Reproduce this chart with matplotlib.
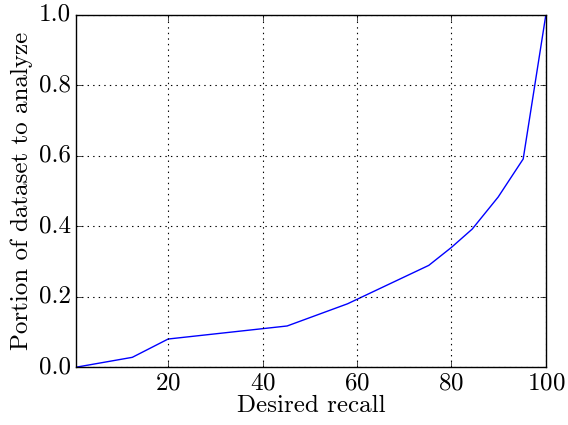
import numpy as np
import matplotlib
matplotlib.use("Agg")
import matplotlib.pyplot as plt

# Desired recall (%) vs portion of the dataset that must be analyzed
recall = [0.5, 12.4, 20, 45.2, 58, 75.2, 80, 84.4, 89.9, 95.2, 100]
portion = [0.0, 0.028, 0.08, 0.117, 0.18, 0.289, 0.34, 0.392, 0.483, 0.591, 1.0]

x_ticks = [20, 40, 60, 80, 100]
y_ticks = [0.0, 0.2, 0.4, 0.6, 0.8, 1.0]

plt.style.use("classic")
plt.rcParams["font.family"] = "cmr10"
plt.rcParams["mathtext.fontset"] = "cm"
plt.rcParams["axes.formatter.use_mathtext"] = True

fig = plt.figure(figsize=(5.68, 4.25), dpi=100, facecolor="white")
ax = fig.add_axes([0.134, 0.136, 0.827, 0.829])

ax.plot(recall, portion, color="blue", linewidth=1.0)
ax.set_xlim(0.5, 100)
ax.set_ylim(0, 1.0)
ax.set_xticks(x_ticks)
ax.set_yticks(y_ticks)
ax.set_yticklabels(["%.1f" % v for v in y_ticks])
ax.tick_params(labelsize=18)
ax.set_xlabel("Desired recall", fontsize=18, labelpad=0)
ax.set_ylabel("Portion of dataset to analyze", fontsize=18, labelpad=4)
ax.grid(True, color="black", linestyle=":", linewidth=0.8)

fig.savefig("out.png", dpi=100, facecolor="white")
